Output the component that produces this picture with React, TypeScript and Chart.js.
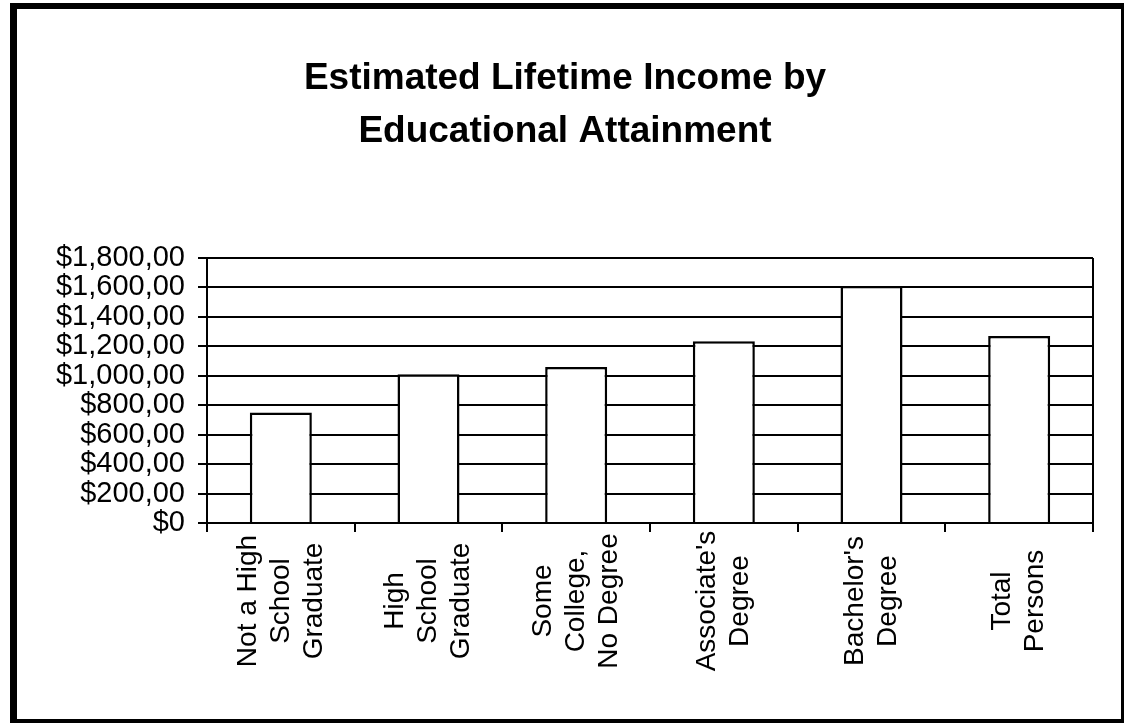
import React, { useEffect, useRef } from "react";
import { Chart, registerables } from "chart.js";

Chart.register(...registerables);

const FONT = "'Liberation Sans', Arial, Helvetica, sans-serif";

const titleLines: string[] = ["Estimated Lifetime Income by", "Educational Attainment"];

const categories: string[][] = [
  ["Not a High", "School", "Graduate"],
  ["High", "School", "Graduate"],
  ["Some", "College,", "No Degree"],
  ["Associate's", "Degree"],
  ["Bachelor's", "Degree"],
  ["Total", "Persons"],
];

const lifetimeIncome: number[] = [750, 1010, 1060, 1235, 1610, 1270];

const yTickLabels: string[] = [
  "$0",
  "$200,00",
  "$400,00",
  "$600,00",
  "$800,00",
  "$1,000,00",
  "$1,200,00",
  "$1,400,00",
  "$1,600,00",
  "$1,800,00",
];

const framePlugin = {
  id: "frame",
  beforeDraw(chart: any) {
    const ctx = chart.ctx;
    ctx.save();
    ctx.fillStyle = "#ffffff";
    ctx.fillRect(0, 0, chart.width, chart.height);
    ctx.fillStyle = "#000000";
    ctx.fillRect(10, 3, 1114, 6); // top
    ctx.fillRect(10, 3, 7, 720); // left
    ctx.fillRect(1121, 3, 3, 720); // right
    ctx.fillRect(10, 719, 1114, 4); // bottom
    ctx.restore();
  },
  afterDatasetsDraw(chart: any) {
    const ctx = chart.ctx;
    const a = chart.chartArea;
    ctx.save();
    ctx.strokeStyle = "#000";
    ctx.lineWidth = 2;
    ctx.beginPath();
    ctx.moveTo(a.right, a.top);
    ctx.lineTo(a.right, a.bottom);
    ctx.stroke();
    ctx.restore();
  },
};

const xLabelPlugin = {
  id: "xLabels",
  afterDraw(chart: any) {
    const ctx = chart.ctx;
    const xs = chart.scales.x;
    const centerY = chart.chartArea.bottom + 78;
    ctx.save();
    ctx.font = `28px ${FONT}`;
    ctx.fillStyle = "#000";
    ctx.textAlign = "center";
    ctx.textBaseline = "middle";
    categories.forEach((lines, i) => {
      const cx = xs.getPixelForValue(i);
      const n = lines.length;
      ctx.save();
      ctx.translate(cx, centerY);
      ctx.rotate(-Math.PI / 2);
      lines.forEach((ln, j) => {
        ctx.fillText(ln, 0, (j - (n - 1) / 2) * 33);
      });
      ctx.restore();
    });
    ctx.restore();
  },
};

export default function App() {
  const ref = useRef<HTMLCanvasElement | null>(null);

  useEffect(() => {
    if (!ref.current) return;
    const chart = new Chart(ref.current, {
      type: "bar",
      data: {
        labels: categories.map((c) => c.join(" ")),
        datasets: [
          {
            data: lifetimeIncome,
            backgroundColor: "#ffffff",
            borderColor: "#000000",
            borderWidth: 2.5,
            categoryPercentage: 1,
            barPercentage: 0.42,
          },
        ],
      },
      options: {
        responsive: false,
        animation: false,
        layout: { padding: { top: 0, right: 35, bottom: 0, left: 37 } },
        plugins: {
          legend: { display: false },
          tooltip: { enabled: false },
          title: {
            display: true,
            text: titleLines,
            color: "#000",
            font: { family: FONT, size: 37, weight: "bold", lineHeight: 1.432 },
            padding: { top: 52, bottom: 100 },
          },
        },
        scales: {
          x: {
            offset: true,
            grid: {
              display: true,
              drawOnChartArea: false,
              drawTicks: true,
              tickLength: 9,
              color: "#000",
              lineWidth: 2,
              offset: true,
            },
            border: { display: true, color: "#000", width: 2 },
            ticks: { display: false },
            afterFit: (s: any) => {
              s.height = 201;
            },
          },
          y: {
            min: 0,
            max: 1800,
            ticks: {
              stepSize: 200,
              autoSkip: false,
              color: "#000",
              font: { family: FONT, size: 29 },
              padding: 13,
              callback: (_v: any, i: number) => yTickLabels[i],
            },
            grid: { color: "#000", lineWidth: 2, tickLength: 9, drawTicks: true },
            border: { display: true, color: "#000", width: 2 },
            afterFit: (s: any) => {
              s.width = 170;
            },
          },
        },
      },
      plugins: [framePlugin, xLabelPlugin],
    });
    return () => chart.destroy();
  }, []);

  return (
    <div style={{ position: "absolute", left: 0, top: 0, width: 1128, height: 724 }}>
      <canvas ref={ref} width={1128} height={724} style={{ display: "block" }} />
    </div>
  );
}
